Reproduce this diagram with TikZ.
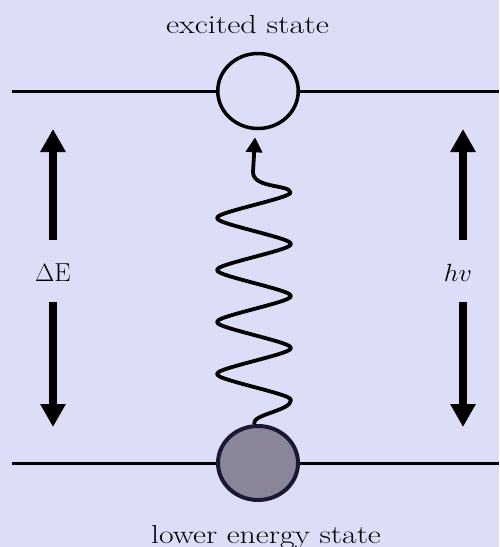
\documentclass[tikz,border=0pt]{standalone}
\usetikzlibrary{arrows.meta,shapes.geometric}
\definecolor{bg}{RGB}{220,221,246}
\definecolor{edgecol}{RGB}{25,25,52}
\definecolor{groundfill}{RGB}{138,133,152}
\begin{document}
\begin{tikzpicture}[x=1pt,y=-1pt,
  level/.style={line width=3pt, draw=black},
  statebox/.style={ellipse, draw, inner sep=0pt, minimum width=80.5pt, minimum height=75pt, line width=3.5pt},
  bigarrow/.style={line width=8pt, -{Triangle[width=24pt,length=23pt]}},
  wave/.style={line width=3.8pt, line join=round, -{Triangle[width=16pt,length=15pt]}},
  lbl/.style={font=\fontsize{26}{31}\selectfont, inner sep=0pt}]
\fill[bg] (0,0) rectangle (499,547);
\useasboundingbox (0,0) rectangle (499,547);
% levels
\coordinate (tl) at (12,91);
\coordinate (tr) at (499,91);
\coordinate (bl) at (12,463);
\coordinate (br) at (499,463);
\node[statebox, draw=black] (excited) at (258,91) {};
\node[statebox, draw=edgecol, fill=groundfill, line width=4pt, minimum width=80pt, minimum height=74pt] (lower) at (258,463) {};
\draw[level] (tl) -- (excited.west);
\draw[level] (excited.east) -- (tr);
\draw[level] (bl) -- (lower.west);
\draw[level] (lower.east) -- (br);
% photon wave
\draw[wave] ([xshift=-4pt]lower.north) .. controls +(-2,-10) and (291,411) .. (291,400)
  -- plot[domain=0:207, samples=120, variable=\t] ({254+37*asin(0.85*cos(\t*6.923))/58.21}, {400-\t})
  .. controls (291,184) and (253,189) .. (253,172) -- ([xshift=-3pt,yshift=-7pt]excited.south);
% energy arrows
\coordinate (lus) at (53,240);
\coordinate (lut) at (53,129);
\coordinate (lds) at (53,302);
\coordinate (ldt) at (53,427);
\coordinate (rus) at (463,240);
\coordinate (rut) at (463,129);
\coordinate (rds) at (463,302);
\coordinate (rdt) at (463,427);
\draw[bigarrow] (lus) -- (lut);
\draw[bigarrow] (lds) -- (ldt);
\draw[bigarrow] (rus) -- (rut);
\draw[bigarrow] (rds) -- (rdt);
% labels
\node[lbl] (dE) at (53,273) {$\Delta$E};
\node[lbl] (hv) at (458,273) {\scalebox{1.05}[1]{$hv$}};
\node[lbl, anchor=base] (extext) at (247.5,33) {\scalebox{1.24}[1]{excited state}};
\node[lbl, anchor=base] (lotext) at (266,543) {\scalebox{1.22}[1]{lower energy state}};
\end{tikzpicture}
\end{document}
